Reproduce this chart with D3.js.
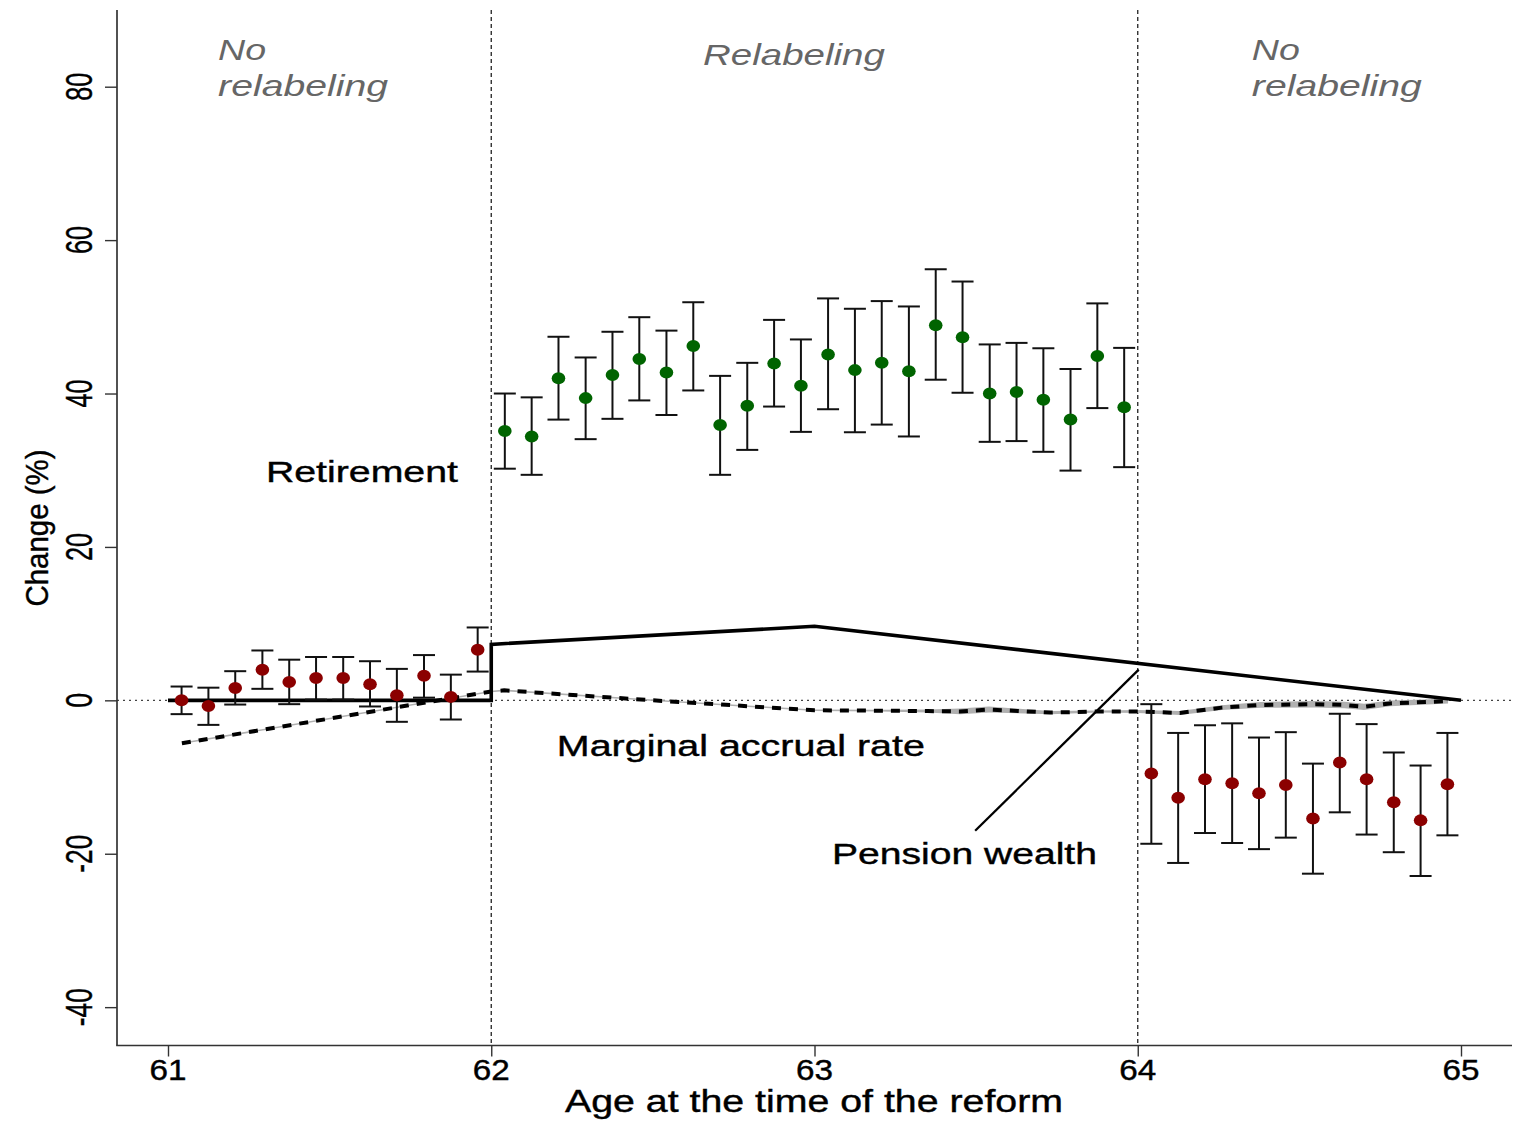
<!DOCTYPE html>
<html>
<head>
<meta charset="utf-8">
<script src="https://cdn.jsdelivr.net/npm/d3@7"></script>
<style>
  html, body { margin: 0; padding: 0; background: #fff; }
  svg { display: block; font-family: "Liberation Sans", Arial, sans-serif; }
</style>
</head>
<body>
<svg id="chart" width="1517" height="1124"></svg>
<script>
// ---------------- DATA ----------------
const xTicks = [61, 62, 63, 64, 65];
const yTicks = [-40, -20, 0, 20, 40, 60, 80];
const xTitle = "Age at the time of the reform";
const yTitle = "Change (%)";
const regionBreaks = [62, 64];

// Red estimates, ages 61–62 (no relabeling)
const redAgesA = [61.042, 61.125, 61.208, 61.292, 61.375, 61.458, 61.542, 61.625, 61.708, 61.792, 61.875, 61.958];
const redEstA  = [0.0, -0.75, 1.6, 4.0, 2.4, 2.9, 2.9, 2.1, 0.65, 3.2, 0.45, 6.6];
const redLoA   = [-1.8, -3.2, -0.55, 1.5, -0.5, 0.1, 0.1, -0.8, -2.8, 0.35, -2.5, 3.75];
const redHiA   = [1.8, 1.65, 3.8, 6.5, 5.3, 5.65, 5.65, 5.1, 4.1, 5.9, 3.35, 9.5];

// Green estimates, ages 62–64 (relabeling)
const greenAges = [62.042, 62.125, 62.208, 62.292, 62.375, 62.458, 62.542, 62.625, 62.708, 62.792, 62.875, 62.958,
                   63.042, 63.125, 63.208, 63.292, 63.375, 63.458, 63.542, 63.625, 63.708, 63.792, 63.875, 63.958];
const greenEst = [35.1, 34.4, 42.0, 39.4, 42.4, 44.5, 42.75, 46.2, 35.9, 38.4, 43.9, 41.0,
                  45.1, 43.05, 44.0, 42.9, 48.9, 47.35, 40.0, 40.2, 39.2, 36.6, 44.9, 38.2];
const greenLo  = [30.2, 29.4, 36.6, 34.05, 36.7, 39.1, 37.2, 40.4, 29.4, 32.65, 38.3, 35.0,
                  37.95, 34.95, 35.95, 34.4, 41.8, 40.1, 33.7, 33.8, 32.4, 29.95, 38.1, 30.4];
const greenHi  = [40.0, 39.5, 47.4, 44.7, 48.05, 49.95, 48.2, 51.9, 42.3, 44.0, 49.6, 47.05,
                  52.4, 51.05, 52.05, 51.35, 56.2, 54.6, 46.4, 46.6, 45.9, 43.2, 51.75, 45.95];

// Red estimates, ages 64–65 (no relabeling)
const redAgesB = [64.042, 64.125, 64.208, 64.292, 64.375, 64.458, 64.542, 64.625, 64.708, 64.792, 64.875, 64.958];
const redEstB  = [-9.55, -12.7, -10.3, -10.8, -12.1, -11.05, -15.4, -8.1, -10.3, -13.3, -15.65, -10.95];
const redLoB   = [-18.7, -21.2, -17.3, -18.6, -19.4, -17.9, -22.6, -14.6, -17.5, -19.8, -22.9, -17.6];
const redHiB   = [-0.5, -4.25, -3.25, -3.0, -4.85, -4.15, -8.25, -1.75, -3.1, -6.8, -8.5, -4.25];

// Pension wealth (solid line)
const pwAges = [61, 62, 62, 63, 65];
const pwVals = [0, 0, 7.3, 9.65, 0];

// Marginal accrual rate (dashed line with narrow band)
const accAges = [61.043, 62.0, 62.04, 62.5, 63.0, 63.2, 63.35, 63.45, 63.54, 63.73, 63.88, 64.0, 64.13, 64.26, 64.38, 64.55, 64.64, 64.7, 64.78, 64.96];
const accVals = [-5.6, 1.15, 1.3, 0.0, -1.3, -1.35, -1.4, -1.45, -1.2, -1.6, -1.45, -1.45, -1.65, -0.95, -0.6, -0.5, -0.6, -0.85, -0.4, -0.1];
const accHalf = [0.1, 0.1, 0.1, 0.1, 0.1, 0.12, 0.2, 0.38, 0.38, 0.2, 0.12, 0.2, 0.25, 0.32, 0.38, 0.42, 0.42, 0.42, 0.38, 0.3];

// Labels
const regionLabels = [
  { lines: ["No", "relabeling"], age: 61.155 },
  { lines: ["Relabeling"], age: 62.655 },
  { lines: ["No", "relabeling"], age: 64.353 }
];
const seriesLabels = [
  { text: "Retirement", age: 61.303, val: 28.4, len: 192 },
  { text: "Marginal accrual rate", age: 62.203, val: -7.3, len: 368 },
  { text: "Pension wealth", age: 63.054, val: -21.3, len: 265 }
];
const pointerFrom = [63.497, -17.0];
const pointerTo = [64.003, 4.0];

// ---------------- CHART ----------------
const svg = d3.select("#chart");
const x = d3.scaleLinear().domain([61, 65]).range([168, 1461]);
const y = d3.scaleLinear().domain([-45, 90]).range([1045.5, 10]);
const axisColor = "#333";

// reference lines
svg.append("line")
  .attr("x1", 117).attr("x2", 1512)
  .attr("y1", y(0)).attr("y2", y(0))
  .attr("stroke", "#444").attr("stroke-width", 1.1)
  .attr("stroke-dasharray", "2,4");

svg.selectAll(".vbreak").data(regionBreaks).enter().append("line")
  .attr("x1", d => x(d)).attr("x2", d => x(d))
  .attr("y1", y(90)).attr("y2", y(-45))
  .attr("stroke", "#222").attr("stroke-width", 1.3)
  .attr("stroke-dasharray", "4,3");

// axes
const yAxis = d3.axisLeft(y).tickValues(yTicks).tickSize(12).tickFormat("");
const gy = svg.append("g").attr("transform", "translate(117,0)").call(yAxis);
gy.select(".domain").remove();
gy.selectAll(".tick line").attr("stroke", axisColor).attr("stroke-width", 1.4);

const xAxis = d3.axisBottom(x).tickValues(xTicks).tickSize(11).tickFormat("");
const gx = svg.append("g").attr("transform", `translate(0,${y(-45)})`).call(xAxis);
gx.select(".domain").remove();
gx.selectAll(".tick line").attr("stroke", axisColor).attr("stroke-width", 1.4);

svg.append("line").attr("x1", 117).attr("x2", 117).attr("y1", y(90)).attr("y2", y(-45))
  .attr("stroke", axisColor).attr("stroke-width", 1.7);
svg.append("line").attr("x1", 116.2).attr("x2", 1512).attr("y1", y(-45)).attr("y2", y(-45))
  .attr("stroke", axisColor).attr("stroke-width", 1.7);

// y tick labels (rotated, condensed)
svg.selectAll(".ylab").data(yTicks).enter().append("text")
  .attr("transform", d => `translate(92,${y(d)}) rotate(-90)`)
  .attr("text-anchor", "middle")
  .attr("font-size", 37)
  .attr("textLength", d => (String(d).length === 1 ? 15 : 28) + (d < 0 ? 10 : 0))
  .attr("lengthAdjust", "spacingAndGlyphs")
  .attr("fill", "#000")
  .attr("stroke", "#000").attr("stroke-width", 0.4)
  .text(d => d);

// x tick labels
svg.selectAll(".xlab").data(xTicks).enter().append("text")
  .attr("x", d => x(d)).attr("y", 1080)
  .attr("text-anchor", "middle")
  .attr("font-size", 29)
  .attr("textLength", 37)
  .attr("lengthAdjust", "spacingAndGlyphs")
  .attr("fill", "#000")
  .attr("stroke", "#000").attr("stroke-width", 0.4)
  .text(d => d);

// axis titles
svg.append("text").attr("x", 814).attr("y", 1112)
  .attr("text-anchor", "middle").attr("font-size", 31)
  .attr("textLength", 498).attr("lengthAdjust", "spacingAndGlyphs")
  .attr("stroke", "#000").attr("stroke-width", 0.4)
  .text(xTitle);
svg.append("text").attr("transform", "translate(48,528) rotate(-90)")
  .attr("text-anchor", "middle").attr("font-size", 31)
  .attr("textLength", 157).attr("lengthAdjust", "spacingAndGlyphs")
  .attr("stroke", "#000").attr("stroke-width", 0.4)
  .text(yTitle);

// marginal accrual band + dashed line
const accData = accAges.map((a, i) => ({ a, v: accVals[i], h: accHalf[i] }));
svg.append("path").datum(accData)
  .attr("d", d3.area().x(d => x(d.a)).y0(d => y(d.v - d.h)).y1(d => y(d.v + d.h)))
  .attr("fill", "#b0b0b0");
svg.append("path").datum(accData)
  .attr("d", d3.line().x(d => x(d.a)).y(d => y(d.v)))
  .attr("fill", "none").attr("stroke", "#000").attr("stroke-width", 4)
  .attr("stroke-dasharray", "9,8");

// pension wealth line
const pwData = pwAges.map((a, i) => ({ a, v: pwVals[i] }));
svg.append("path").datum(pwData)
  .attr("d", d3.line().x(d => x(d.a)).y(d => y(d.v)))
  .attr("fill", "none").attr("stroke", "#000").attr("stroke-width", 3.6)
  .attr("stroke-linejoin", "miter");

// pointer
svg.append("line")
  .attr("x1", x(pointerFrom[0])).attr("y1", y(pointerFrom[1]))
  .attr("x2", x(pointerTo[0])).attr("y2", y(pointerTo[1]))
  .attr("stroke", "#000").attr("stroke-width", 2.3);

// error bars + points
function drawSeries(ages, est, lo, hi, color) {
  const data = ages.map((a, i) => ({ a, e: est[i], l: lo[i], h: hi[i] }));
  const g = svg.append("g");
  const cap = 11;
  const eb = g.selectAll(".eb").data(data).enter().append("g")
    .attr("stroke", "#111").attr("stroke-width", 2);
  eb.append("line").attr("x1", d => x(d.a)).attr("x2", d => x(d.a))
    .attr("y1", d => y(d.l)).attr("y2", d => y(d.h));
  eb.append("line").attr("x1", d => x(d.a) - cap).attr("x2", d => x(d.a) + cap)
    .attr("y1", d => y(d.l)).attr("y2", d => y(d.l));
  eb.append("line").attr("x1", d => x(d.a) - cap).attr("x2", d => x(d.a) + cap)
    .attr("y1", d => y(d.h)).attr("y2", d => y(d.h));
  g.selectAll(".pt").data(data).enter().append("ellipse")
    .attr("cx", d => x(d.a)).attr("cy", d => y(d.e))
    .attr("rx", 6.8).attr("ry", 6)
    .attr("fill", color);
}
drawSeries(redAgesA, redEstA, redLoA, redHiA, "#8b0000");
drawSeries(greenAges, greenEst, greenLo, greenHi, "#006400");
drawSeries(redAgesB, redEstB, redLoB, redHiB, "#8b0000");

// region labels
const regionLens = { "No": 48, "relabeling": 170, "Relabeling": 182 };
regionLabels.forEach(r => {
  r.lines.forEach((t, i) => {
    const base = r.lines.length === 1 ? 65 : (i === 0 ? 60 : 96);
    svg.append("text")
      .attr("x", x(r.age)).attr("y", base)
      .attr("font-size", 30).attr("font-style", "italic")
      .attr("fill", "#666")
      .attr("textLength", regionLens[t]).attr("lengthAdjust", "spacingAndGlyphs")
      .text(t);
  });
});

// series labels
seriesLabels.forEach(s => {
  svg.append("text")
    .attr("x", x(s.age)).attr("y", y(s.val))
    .attr("font-size", 30).attr("fill", "#000")
    .attr("stroke", "#000").attr("stroke-width", 0.4)
    .attr("textLength", s.len).attr("lengthAdjust", "spacingAndGlyphs")
    .text(s.text);
});
</script>
</body>
</html>
